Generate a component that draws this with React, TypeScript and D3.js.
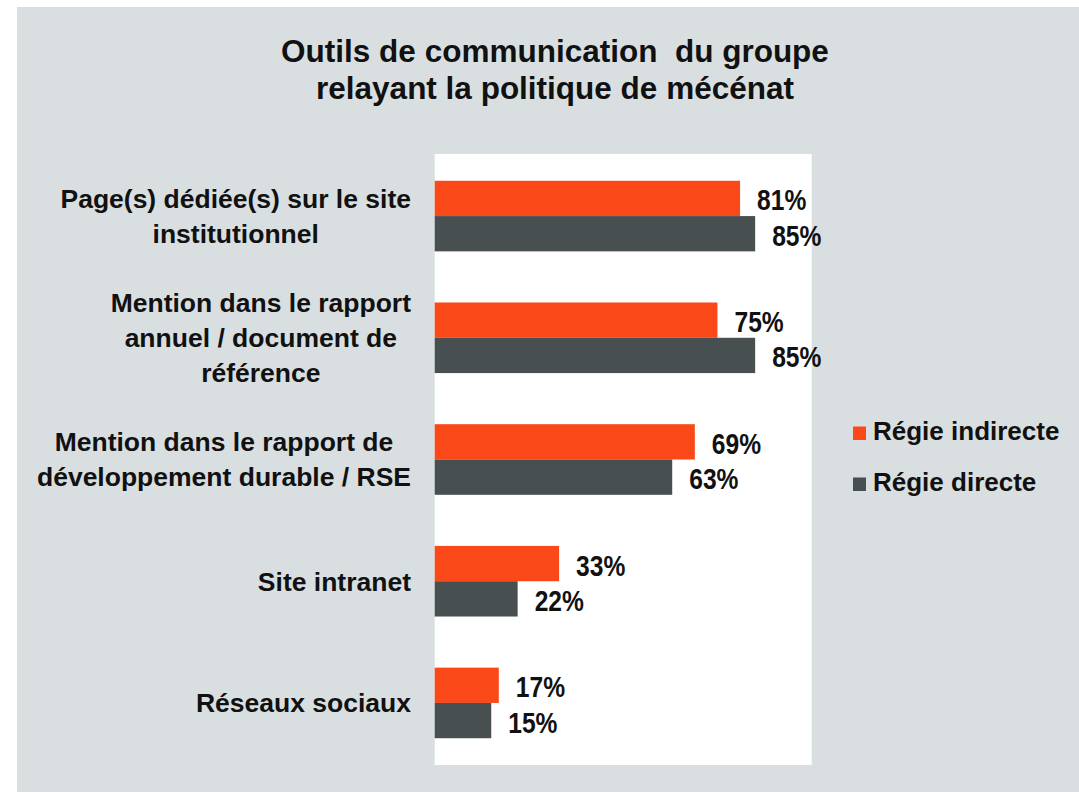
import React, { useEffect, useRef } from 'react';
import * as d3 from 'd3';

const titleLines = ['Outils de communication  du groupe', 'relayant la politique de mécénat'];
const categories = [
  ['Page(s) dédiée(s) sur le site', 'institutionnel'],
  ['Mention dans le rapport', 'annuel / document de', 'référence'],
  ['Mention dans le rapport de', 'développement durable / RSE'],
  ['Site intranet'],
  ['Réseaux sociaux'],
];
const seriesNames = ['Régie indirecte', 'Régie directe'];
const regieIndirecte = [81, 75, 69, 33, 17];
const regieDirecte = [85, 85, 63, 22, 15];
const colors = ['#fa4818', '#474f51'];

const App: React.FC = () => {
  const svgRef = useRef<SVGSVGElement>(null);

  useEffect(() => {
    const svg = d3.select(svgRef.current);
    svg.selectAll('*').remove();
    const font = '"Liberation Sans", Arial, sans-serif';

    svg.append('rect')
      .attr('x', 17).attr('y', 7)
      .attr('width', 1079 - 17).attr('height', 792 - 7)
      .attr('fill', '#d9dfe1');

    const plotTop = 154, plotBottom = 765;
    const x = d3.scaleLinear().domain([0, 100]).range([434.7, 811.7]);
    const keys = categories.map((_, i) => String(i));
    const y = d3.scaleBand().domain(keys).range([plotTop, plotBottom])
      .paddingInner(0.42).paddingOuter(0.22);
    const ySub = d3.scaleBand().domain(seriesNames).range([0, y.bandwidth()]);

    svg.append('rect')
      .attr('x', x(0)).attr('y', plotTop)
      .attr('width', x(100) - x(0)).attr('height', plotBottom - plotTop)
      .attr('fill', '#ffffff');

    // title (keeps the double space of the original)
    svg.append('g').selectAll('text')
      .data(titleLines)
      .enter().append('text')
      .attr('x', 555)
      .attr('y', (_, i) => 62 + i * 37)
      .attr('text-anchor', 'middle')
      .attr('font-family', font)
      .attr('font-weight', 'bold')
      .attr('font-size', 31.5)
      .attr('fill', '#111')
      .style('white-space', 'pre')
      .text(d => d);

    const rows = categories.map((lines, i) => ({
      key: keys[i], lines, values: [regieIndirecte[i], regieDirecte[i]],
    }));

    const groups = svg.append('g').selectAll('g')
      .data(rows)
      .enter().append('g')
      .attr('transform', d => `translate(0,${y(d.key)})`);

    groups.selectAll('rect')
      .data(d => d.values.map((v, j) => ({ v, s: seriesNames[j], c: colors[j] })))
      .enter().append('rect')
      .attr('x', x(0))
      .attr('y', d => ySub(d.s)!)
      .attr('width', d => x(d.v) - x(0))
      .attr('height', ySub.bandwidth())
      .attr('fill', d => d.c);

    // value labels (narrow bold)
    groups.selectAll('text.val')
      .data(d => d.values.map((v, j) => ({ v, s: seriesNames[j] })))
      .enter().append('text')
      .attr('class', 'val')
      .attr('transform', d => `translate(${x(d.v) + 17},${ySub(d.s)! + ySub.bandwidth() / 2 + 12}) scale(0.82,1)`)
      .attr('font-family', font)
      .attr('font-weight', 'bold')
      .attr('font-size', 30)
      .attr('fill', '#111')
      .text(d => `${d.v}%`);

    // category labels, block right-aligned, lines centred
    const labelRight = 411;
    const lineH = 35;
    groups.each(function (d) {
      const g = d3.select(this);
      const mid = y.bandwidth() / 2;
      const n = d.lines.length;
      const texts = g.selectAll('text.cat')
        .data(d.lines)
        .enter().append('text')
        .attr('class', 'cat')
        .attr('y', (_, i) => mid + (i - (n - 1) / 2) * lineH + 9.5)
        .attr('font-family', font)
        .attr('font-weight', 'bold')
        .attr('font-size', 26.5)
        .attr('fill', '#111')
        .text(t => t);
      let maxW = 0;
      texts.each(function () {
        maxW = Math.max(maxW, (this as SVGTextElement).getComputedTextLength());
      });
      texts.attr('x', labelRight - maxW / 2).attr('text-anchor', 'middle');
    });

    // legend
    const legend = svg.append('g').selectAll('g')
      .data(seriesNames)
      .enter().append('g')
      .attr('transform', (_, i) => `translate(853,${440 + i * 51})`);
    legend.append('rect')
      .attr('x', 0).attr('y', -13.5)
      .attr('width', 13).attr('height', 13.5)
      .attr('fill', (_, i) => colors[i]);
    legend.append('text')
      .attr('x', 20).attr('y', 0)
      .attr('font-family', font)
      .attr('font-weight', 'bold')
      .attr('font-size', 26)
      .attr('fill', '#111')
      .text(d => d);
  }, []);

  return (
    <svg
      ref={svgRef}
      width={1079}
      height={792}
      style={{ position: 'absolute', left: 0, top: 0, display: 'block', background: '#ffffff' }}
    ></svg>
  );
};

export default App;
